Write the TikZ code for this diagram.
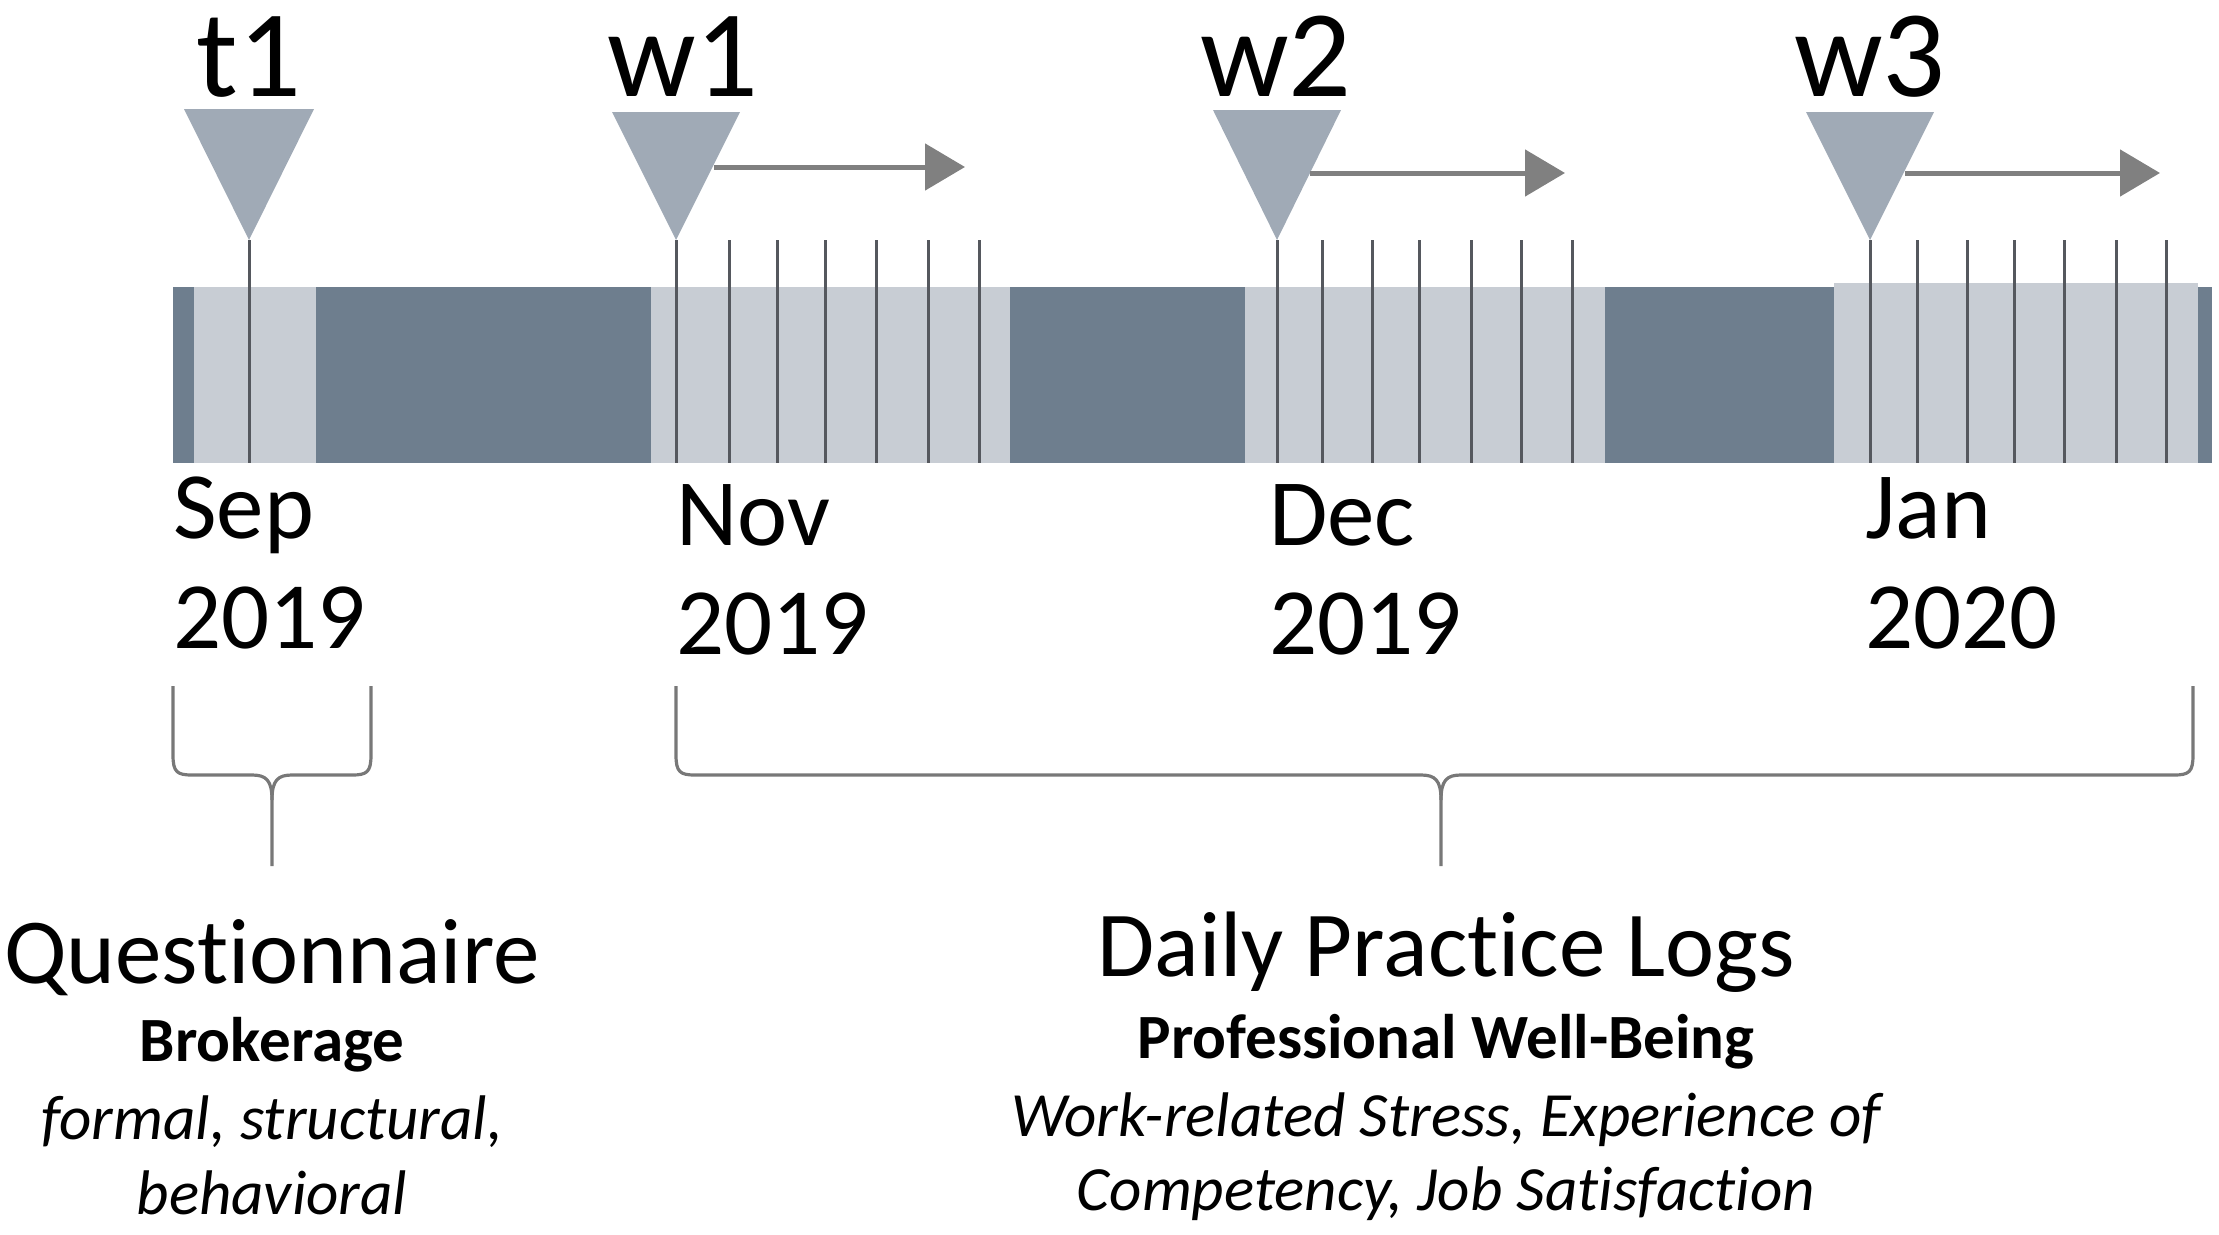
\documentclass[tikz,border=0pt]{standalone}
\usepackage{fontspec}
\setmainfont{Carlito}[Ligatures=NoCommon]
\usetikzlibrary{arrows.meta}
\definecolor{bardark}{RGB}{110,126,142}
\definecolor{barlight}{RGB}{200,205,212}
\definecolor{trigray}{RGB}{160,170,182}
\definecolor{tickgray}{RGB}{85,88,94}
\definecolor{arrgray}{RGB}{128,128,128}
\definecolor{bracegray}{RGB}{120,120,120}
\tikzset{
  tickline/.style={draw=tickgray, line width=3pt},
  trimark/.style={fill=trigray},
  goarrow/.style={draw=arrgray, line width=5pt, -{Triangle[length=40pt,width=46pt]}},
  bracelin/.style={draw=bracegray, line width=3.2pt, line join=round},
  wave/.style={inner sep=0pt, anchor=base, font=\fontsize{124}{130}\selectfont},
  month/.style={inner sep=0pt, anchor=base west, font=\fontsize{95}{110}\selectfont},
  head/.style={inner sep=0pt, anchor=base, font=\fontsize{93}{100}\selectfont},
  sub/.style={inner sep=0pt, anchor=base, font=\bfseries\fontsize{63}{70}\selectfont},
  itl/.style={inner sep=0pt, anchor=base, font=\itshape\fontsize{63}{70}\selectfont}
}
\begin{document}
\begin{tikzpicture}[x=1pt,y=-1pt]
\useasboundingbox (0,0) rectangle (2219,1234);
% bar
\fill[bardark] (173,287) rectangle (2212,463);
\fill[barlight] (194,287) rectangle (316,463);
\fill[barlight] (651,287) rectangle (1010,463);
\fill[barlight] (1245,287) rectangle (1605,463);
\fill[barlight] (1834,283) rectangle (2198,463);
% ticks
\draw[tickline] (249,240) -- (249,463);
\foreach \x in {676,729,777,825,876,928,979,1277,1322,1372,1419,1471,1521,1572,1870,1917,1967,2014,2064,2116,2166}
  \draw[tickline] (\x,240) -- (\x,463);
% triangles
\fill[trimark] (184,109) -- (314,109) -- (249,240) -- cycle;
\fill[trimark] (612,112) -- (740,112) -- (676,240) -- cycle;
\fill[trimark] (1213,110) -- (1341,110) -- (1277,240) -- cycle;
\fill[trimark] (1806,112) -- (1934,112) -- (1870,240) -- cycle;
% arrows
\coordinate (a1s) at (714,167); \coordinate (a1e) at (965,167);
\coordinate (a2s) at (1310,173); \coordinate (a2e) at (1565,173);
\coordinate (a3s) at (1905,173); \coordinate (a3e) at (2160,173);
\draw[goarrow] (a1s) -- (a1e);
\draw[goarrow] (a2s) -- (a2e);
\draw[goarrow] (a3s) -- (a3e);
% wave labels
\node[wave] (t1) at (249,96) {t1};
\node[wave] (w1) at (683,96) {w1};
\node[wave] (w2) at (1276,96) {w2};
\node[wave] (w3) at (1870,96) {w3};
% months
\node[month] (sep) at (173,538) {Sep};
\node[month] (sepy) at (173,648) {2019};
\node[month] (nov) at (676,545) {Nov};
\node[month] (novy) at (676,654) {2019};
\node[month] (dec) at (1269,545) {Dec};
\node[month] (decy) at (1269,654) {2019};
\node[month] (jan) at (1865,538) {Jan};
\node[month] (jany) at (1865,648) {2020};
% braces
\draw[bracelin] (173,686) -- (173,755) .. controls (173,772) and (177,775) .. (192,775) -- (252,775) .. controls (266,775) and (272,780) .. (272,800) -- (272,866);
\draw[bracelin] (371,686) -- (371,755) .. controls (371,772) and (367,775) .. (352,775) -- (292,775) .. controls (278,775) and (272,780) .. (272,800);
\draw[bracelin] (676,686) -- (676,755) .. controls (676,772) and (680,775) .. (695,775) -- (1421,775) .. controls (1435,775) and (1441,780) .. (1441,800) -- (1441,866);
\draw[bracelin] (2193,686) -- (2193,755) .. controls (2193,772) and (2189,775) .. (2174,775) -- (1461,775) .. controls (1447,775) and (1441,780) .. (1441,800);
% bottom texts
\node[head] (q) at (272,983) {Questionnaire};
\node[sub] (qb) at (272,1061) {Brokerage};
\node[itl] (qi1) at (272,1139) {formal, structural,};
\node[itl] (qi2) at (272,1214) {behavioral};
\node[head] (d) at (1446,976) {Daily Practice Logs};
\node[sub] (db) at (1446,1058) {Professional Well-Being};
\node[itl] (di1) at (1446,1136) {Work-related Stress, Experience of};
\node[itl] (di2) at (1446,1210) {Competency, Job Satisfaction};
\end{tikzpicture}
\end{document}
